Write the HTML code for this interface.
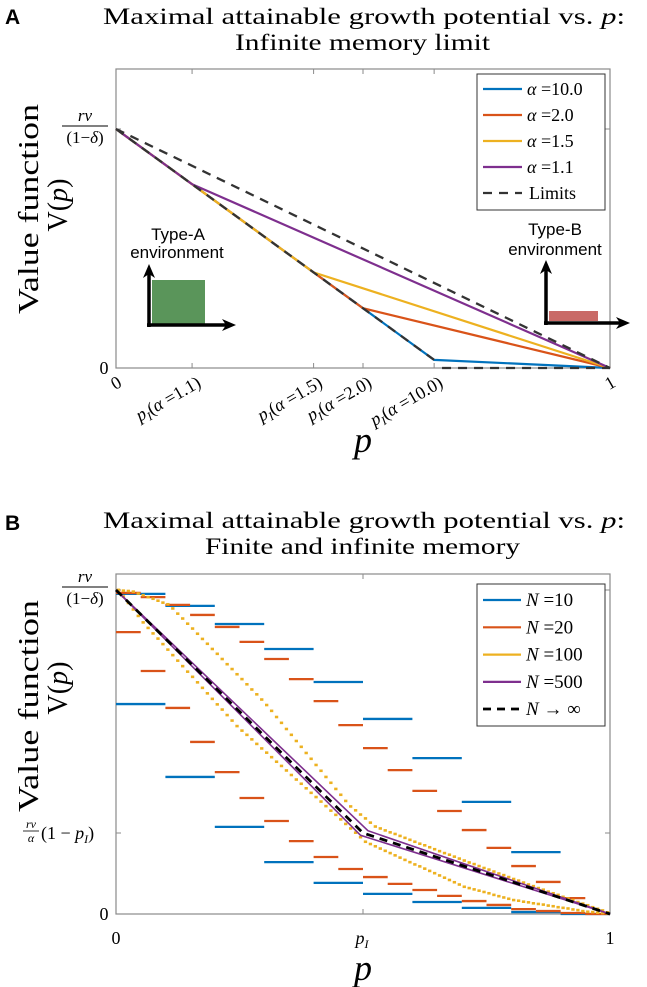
<!DOCTYPE html>
<html><head><meta charset="utf-8"><style>
html,body{margin:0;padding:0;background:#fff;}
svg{display:block;font-family:"Liberation Serif",serif;}
.sans{font-family:"Liberation Sans",sans-serif;}
</style></head><body>
<svg id="fig" width="647" height="987" viewBox="0 0 647 987" xmlns="http://www.w3.org/2000/svg">
<defs>
<marker id="ah" markerWidth="14" markerHeight="14" refX="4" refY="7" orient="auto" markerUnits="userSpaceOnUse"><path d="M0,1 L14,7 L0,13 L4,7 Z" fill="#000"/></marker>
</defs>
<!-- Panel A static text -->
<text x="5" y="24" class="sans" font-size="21" font-weight="bold">A</text>
<text x="103" y="24" font-size="23" textLength="522" lengthAdjust="spacingAndGlyphs">Maximal attainable growth potential vs. <tspan font-style="italic">p</tspan>:</text>
<text x="235" y="50" font-size="23" textLength="255" lengthAdjust="spacingAndGlyphs">Infinite memory limit</text>
<g>
<text transform="translate(38,209) rotate(-90)" text-anchor="middle" font-size="28" textLength="210" lengthAdjust="spacingAndGlyphs">Value function</text>
<text transform="translate(67,205) rotate(-90)" text-anchor="middle" font-size="28">V(<tspan font-style="italic">p</tspan>)</text>
</g>
<g font-size="17" text-anchor="middle">
<text x="85" y="121" font-style="italic">rν</text>
<line x1="62" y1="126" x2="108" y2="126" stroke="#000" stroke-width="1"/>
<text x="85" y="143">(1−<tspan font-style="italic">δ</tspan>)</text>
</g>
<text x="104" y="374" font-size="18" text-anchor="middle">0</text>
<text x="363" y="452" font-size="36" font-style="italic" text-anchor="middle">p</text>

<!-- Panel B static text -->
<text x="5" y="530" class="sans" font-size="21" font-weight="bold">B</text>
<text x="103" y="528" font-size="23" textLength="522" lengthAdjust="spacingAndGlyphs">Maximal attainable growth potential vs. <tspan font-style="italic">p</tspan>:</text>
<text x="205" y="554" font-size="23" textLength="315" lengthAdjust="spacingAndGlyphs">Finite and infinite memory</text>
<g>
<text transform="translate(38,706) rotate(-90)" text-anchor="middle" font-size="28" textLength="212" lengthAdjust="spacingAndGlyphs">Value function</text>
<text transform="translate(67,688) rotate(-90)" text-anchor="middle" font-size="28">V(<tspan font-style="italic">p</tspan>)</text>
</g>
<g font-size="17" text-anchor="middle">
<text x="85" y="582" font-style="italic">rν</text>
<line x1="62" y1="587" x2="108" y2="587" stroke="#000" stroke-width="1"/>
<text x="85" y="604">(1−<tspan font-style="italic">δ</tspan>)</text>
</g>
<g>
<text x="31" y="828" font-size="12" font-style="italic" text-anchor="middle">rν</text>
<line x1="23" y1="831" x2="39" y2="831" stroke="#000" stroke-width="0.8"/>
<text x="31" y="842" font-size="12" font-style="italic" text-anchor="middle">α</text>
<text x="41" y="839" font-size="18">(1 − <tspan font-style="italic">p</tspan><tspan font-size="12" font-style="italic" dy="4">I</tspan><tspan dy="-4">)</tspan></text>
</g>
<text x="104" y="920" font-size="18" text-anchor="middle">0</text>
<text x="116" y="944" font-size="18" text-anchor="middle">0</text>
<text x="362" y="944" font-size="18" font-style="italic" text-anchor="middle">p<tspan font-size="12" dy="4">I</tspan></text>
<text x="610" y="944" font-size="18" text-anchor="middle">1</text>
<text x="363" y="980" font-size="36" font-style="italic" text-anchor="middle">p</text>

<g id="gA"></g>
<g id="gB"></g>
</svg>
<script>
// ---------- Panel A data ----------
const alphaLabels = ['10.0', '2.0', '1.5', '1.1'];
const alphaKinkP = [0.644, 0.50, 0.40, 0.154];
const alphaKinkV = [0.034, 0.25, 0.40, 0.769];
const limitSteepEndP = 0.644;
const limitSteepEndV = 0.034;
const limitFlatStartP = 0.66;

// ---------- Panel B data ----------
const n10Upper = [0.988, 0.951, 0.895, 0.818, 0.716, 0.602, 0.481, 0.346, 0.191];
const n10Lower = [0.648, 0.423, 0.269, 0.160, 0.096, 0.062, 0.037, 0.019, 0.006, 0.0];
const n20Upper = [0.991, 0.978, 0.954, 0.923, 0.886, 0.840, 0.787, 0.725, 0.657, 0.583, 0.512, 0.444, 0.380, 0.318, 0.259, 0.204, 0.148, 0.099, 0.049];
const n20Lower = [0.870, 0.750, 0.636, 0.531, 0.438, 0.358, 0.287, 0.225, 0.176, 0.139, 0.114, 0.093, 0.074, 0.056, 0.040, 0.028, 0.015, 0.009, 0.003, 0.0];
const n100Upper = [1.0,0.998,0.997,0.995,0.989,0.984,0.978,0.973,0.967,0.961,0.956,0.943,0.927,0.912,0.896,0.881,0.865,0.849,0.834,0.818,0.803,0.787,0.771,0.756,0.740,0.725,0.709,0.693,0.678,0.662,0.645,0.627,0.608,0.590,0.571,0.553,0.534,0.516,0.497,0.479,0.460,0.442,0.423,0.405,0.386,0.368,0.349,0.332,0.320,0.307,0.295,0.282,0.270,0.264,0.258,0.252,0.247,0.241,0.235,0.229,0.223,0.217,0.212,0.206,0.200,0.194,0.188,0.183,0.177,0.171,0.165,0.159,0.154,0.148,0.142,0.137,0.131,0.125,0.120,0.114,0.108,0.103,0.097,0.091,0.086,0.080,0.075,0.069,0.064,0.059,0.053,0.048,0.043,0.037,0.032,0.027,0.021,0.016,0.011,0.005];
const n100Lower = [1.0,0.98,0.96,0.94,0.92,0.90,0.883,0.866,0.850,0.833,0.816,0.799,0.782,0.765,0.748,0.732,0.715,0.698,0.681,0.664,0.647,0.631,0.614,0.597,0.580,0.566,0.553,0.539,0.525,0.511,0.498,0.484,0.470,0.457,0.443,0.429,0.415,0.402,0.388,0.374,0.361,0.347,0.333,0.319,0.306,0.292,0.278,0.264,0.251,0.237,0.223,0.216,0.209,0.202,0.195,0.188,0.181,0.174,0.167,0.160,0.153,0.147,0.140,0.133,0.126,0.119,0.112,0.105,0.098,0.091,0.084,0.080,0.076,0.072,0.068,0.064,0.059,0.055,0.051,0.047,0.043,0.041,0.038,0.036,0.033,0.031,0.029,0.026,0.024,0.021,0.019,0.017,0.014,0.012,0.009,0.007,0.006,0.004,0.003,0.001];
const n500UpperP = [0, 0.51, 1];
const n500UpperV = [1, 0.257, 0];
const n500LowerP = [0, 0.495, 1];
const n500LowerV = [1, 0.243, 0];
const infP = [0, 0.5, 1];
const infV = [1, 0.25, 0];
const legendBLabels = ['10', '20', '100', '500'];

const NS = 'http://www.w3.org/2000/svg';
const C = {blue:'#0072BD', red:'#D95319', yellow:'#EDB120', purple:'#7E2F8E'};
function mk(tag, attrs, parent){ const e=document.createElementNS(NS,tag); for(const k in attrs) e.setAttribute(k,attrs[k]); parent.appendChild(e); return e; }

const xA = p => 116 + p*494, yA = v => 368 - v*239;
const xB = p => 116 + p*494, yB = v => 914 - v*324;

// ===== Panel A =====
const gA = document.getElementById('gA');
const boxA = mk('rect',{x:116,y:69,width:494,height:299,fill:'none',stroke:'#8a8a8a','stroke-width':1.2},gA);


alphaKinkP.forEach((p,i)=>{
  const t = mk('path',{d:`M${xA(p)},368 v-5 M${xA(p)},69 v5`,stroke:'#8a8a8a','stroke-width':1},gA);
  
  
  const lb = mk('text',{transform:`translate(${xA(p)+10},${386}) rotate(-30)`,'text-anchor':'end','font-size':18,'font-style':'italic'},gA);
  
  
  lb.innerHTML = `p<tspan font-size="12" dy="4">I</tspan><tspan dy="-4" font-style="normal">(</tspan>α<tspan font-style="normal"> =${alphaLabels[i]})</tspan>`;
});
[[0,'0'],[1,'1']].forEach(([p,s])=>{
  const lb = mk('text',{transform:`translate(${xA(p)+3},${388}) rotate(-30)`,'text-anchor':'middle','font-size':18},gA);
  
  
  lb.textContent = s;
});
const ytA = mk('path',{d:`M116,${yA(1)} h5 M610,${yA(1)} h-5`,stroke:'#8a8a8a','stroke-width':1},gA);



const insA = mk('g',{},gA);


mk('rect',{x:152,y:280,width:53,height:45,fill:'#5a955a'},insA);
mk('line',{x1:149,y1:327,x2:149,y2:274,stroke:'#000','stroke-width':3.5,'marker-end':'url(#ah)'},insA);
mk('line',{x1:147,y1:325,x2:226,y2:325,stroke:'#000','stroke-width':3.5,'marker-end':'url(#ah)'},insA);
const tA1 = mk('text',{x:178,y:240,'text-anchor':'middle','font-size':17,'font-family':'Liberation Sans, sans-serif'},insA); tA1.textContent='Type-A';
const tA2 = mk('text',{x:177,y:258,'text-anchor':'middle','font-size':17,'font-family':'Liberation Sans, sans-serif'},insA); tA2.textContent='environment';
const insB = mk('g',{},gA);


mk('rect',{x:549,y:311,width:49,height:10,fill:'#c96a67'},insB);
mk('line',{x1:546,y1:325,x2:546,y2:270,stroke:'#000','stroke-width':3.5,'marker-end':'url(#ah)'},insB);
mk('line',{x1:544,y1:323,x2:620,y2:323,stroke:'#000','stroke-width':3.5,'marker-end':'url(#ah)'},insB);
const tB1 = mk('text',{x:555,y:235,'text-anchor':'middle','font-size':17,'font-family':'Liberation Sans, sans-serif'},insB); tB1.textContent='Type-B';
const tB2 = mk('text',{x:555,y:255,'text-anchor':'middle','font-size':17,'font-family':'Liberation Sans, sans-serif'},insB); tB2.textContent='environment';

const alphaColors = [C.blue, C.red, C.yellow, C.purple];
alphaKinkP.forEach((p,i)=>{
  const pl = mk('polyline',{points:`${xA(0)},${yA(1)} ${xA(p)},${yA(alphaKinkV[i])} ${xA(1)},${yA(0)}`,fill:'none',stroke:alphaColors[i],'stroke-width':2.2},gA);
  
  
});
const lim1 = mk('line',{x1:xA(0),y1:yA(1),x2:xA(1),y2:yA(0),stroke:'#333','stroke-width':2.3,'stroke-dasharray':'9,7'},gA);


const lim2 = mk('line',{x1:xA(0),y1:yA(1),x2:xA(limitSteepEndP),y2:yA(limitSteepEndV),stroke:'#333','stroke-width':2.3,'stroke-dasharray':'9,7'},gA);


const lim3 = mk('line',{x1:xA(limitFlatStartP),y1:yA(0),x2:xA(1),y2:yA(0),stroke:'#333','stroke-width':2.3,'stroke-dasharray':'9,7'},gA);



const legA = mk('g',{},gA);


mk('rect',{x:477,y:74,width:128,height:136,fill:'#fff',stroke:'#333','stroke-width':1},legA);
alphaLabels.forEach((l,i)=>{
  const y = 89 + i*26;
  const ent = mk('g',{},legA);
  
  
  mk('line',{x1:483,y1:y,x2:522,y2:y,stroke:alphaColors[i],'stroke-width':2.2},ent);
  const t = mk('text',{x:527,y:y+6,'font-size':18},ent);
  t.innerHTML = `<tspan font-style="italic">α</tspan> =${l}`;
});
const entL = mk('g',{},legA);


mk('line',{x1:483,y1:193,x2:522,y2:193,stroke:'#333','stroke-width':2.3,'stroke-dasharray':'9,7'},entL);
const tl = mk('text',{x:529,y:199,'font-size':18},entL); tl.textContent='Limits';

// ===== Panel B =====
const gB = document.getElementById('gB');
const boxB = mk('rect',{x:116,y:574,width:494,height:340,fill:'none',stroke:'#8a8a8a','stroke-width':1.2},gB);


const tkB = mk('path',{d:`M${xB(0.5)},914 v-5 M${xB(0.5)},574 v5 M116,${yB(1)} h5 M610,${yB(1)} h-5 M116,${yB(0.25)} h5 M610,${yB(0.25)} h-5`,stroke:'#8a8a8a','stroke-width':1},gB);



function steps(arr, n, color, name, w){
  const g = mk('g',{},gB);
  
  
  arr.forEach((v,i)=>{
    const s = mk('line',{x1:xB(i/n),y1:yB(v),x2:xB((i+1)/n),y2:yB(v),stroke:color,'stroke-width':w},g);
    
    
  });
}
function dashes(arr, n, color, name){
  const g = mk('g',{},gB);
  
  
  arr.forEach((v,i)=>{
    const s = mk('line',{x1:xB(i/n)+0.8,y1:yB(v),x2:xB((i+1)/n)-0.8,y2:yB(v),stroke:color,'stroke-width':2.6},g);
    
    
  });
}
steps(n10Upper, 10, C.blue, 'n10-upper-steps', 2.3);
steps(n10Lower, 10, C.blue, 'n10-lower-steps', 2.3);
steps(n20Upper, 20, C.red, 'n20-upper-steps', 2.3);
steps(n20Lower, 20, C.red, 'n20-lower-steps', 2.3);
dashes(n100Upper, 100, C.yellow, 'n100-upper-steps');
dashes(n100Lower, 100, C.yellow, 'n100-lower-steps');
const pu = mk('polyline',{points:n500UpperP.map((p,i)=>`${xB(p)},${yB(n500UpperV[i])}`).join(' '),fill:'none',stroke:C.purple,'stroke-width':1.6},gB);


const plw = mk('polyline',{points:n500LowerP.map((p,i)=>`${xB(p)},${yB(n500LowerV[i])}`).join(' '),fill:'none',stroke:C.purple,'stroke-width':1.6},gB);


const inf = mk('polyline',{points:infP.map((p,i)=>`${xB(p)},${yB(infV[i])}`).join(' '),fill:'none',stroke:'#000','stroke-width':2.8,'stroke-dasharray':'8,6'},gB);



const legB = mk('g',{},gB);


mk('rect',{x:477,y:584,width:128,height:142,fill:'#fff',stroke:'#333','stroke-width':1},legB);
legendBLabels.forEach((l,i)=>{
  const y = 600 + i*27.3;
  const ent = mk('g',{},legB);
  
  
  mk('line',{x1:483,y1:y,x2:521,y2:y,stroke:alphaColors[i],'stroke-width':2.2},ent);
  const t = mk('text',{x:526,y:y+6,'font-size':19},ent);
  t.innerHTML = `<tspan font-style="italic">N</tspan> =${l}`;
});
const entI = mk('g',{},legB);


mk('line',{x1:483,y1:709,x2:521,y2:709,stroke:'#000','stroke-width':2.8,'stroke-dasharray':'8,6'},entI);
const ti = mk('text',{x:526,y:715,'font-size':19},entI);
ti.innerHTML = `<tspan font-style="italic">N</tspan> → ∞`;
</script>
</body></html>
